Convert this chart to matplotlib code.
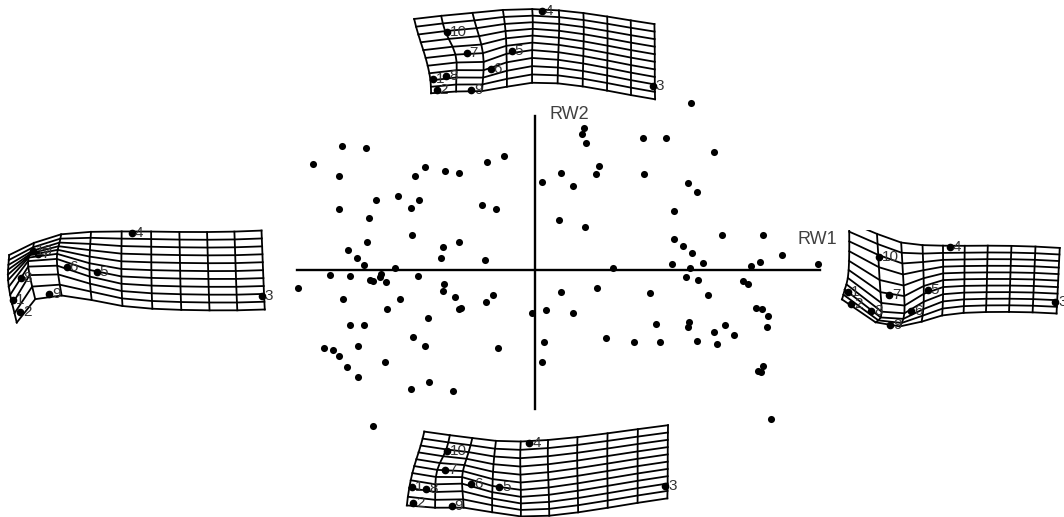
import numpy as np
import matplotlib.pyplot as plt

plt.rcParams['font.family'] = ['Liberation Sans', 'DejaVu Sans']

# relative warp scores (RW1, RW2)
rw1 = [0.467, 0.148, 0.142, 0.152, 0.325, 0.392, 0.537, -0.578, -0.507, -0.667,
       -0.587, -0.330, -0.361, -0.270, -0.227, -0.143, -0.093, 0.193, 0.182, 0.022,
       0.078, 0.113, 0.328, 0.460, 0.486, -0.588, -0.478, -0.412, -0.372, -0.348,
       -0.158, -0.117, -0.499, 0.418, 0.072, 0.150, -0.370, -0.503, -0.227, -0.275,
       -0.282, -0.151, -0.561, -0.534, -0.512, -0.421, 0.416, 0.443, 0.472, 0.562,
       0.685, 0.741, 0.412, 0.505, 0.648, 0.675, 0.235, 0.465, -0.614, -0.556,
       -0.462, -0.465, -0.494, -0.486, -0.448, -0.350, -0.711, -0.272, -0.276, -0.241,
       -0.575, -0.406, -0.443, -0.228, -0.222, -0.148, -0.125, -0.322, -0.556, -0.512,
       -0.366, -0.329, -0.532, -0.633, -0.605, -0.589, -0.565, -0.532, -0.451, -0.371,
       -0.318, -0.246, -0.112, -0.008, 0.034, 0.078, 0.113, 0.185, 0.026, 0.020,
       0.214, 0.296, 0.375, 0.346, 0.363, 0.452, 0.490, 0.519, 0.463, 0.460,
       0.487, 0.536, 0.545, 0.569, 0.598, 0.623, 0.640, 0.663, 0.680, 0.699,
       0.696, 0.683, 0.669, 0.679, 0.709, -0.485, 0.850]
rw2 = [0.501, 0.426, 0.408, 0.383, 0.396, 0.396, 0.354, 0.373, 0.368, 0.319,
       0.283, 0.311, 0.284, 0.297, 0.292, 0.325, 0.343, 0.313, 0.288, 0.266,
       0.292, 0.254, 0.290, 0.262, 0.234, 0.185, 0.211, 0.224, 0.187, 0.210,
       0.196, 0.183, 0.156, 0.178, 0.151, 0.129, 0.107, 0.086, 0.085, 0.071,
       0.038, 0.030, 0.061, 0.038, 0.016, 0.007, 0.093, 0.072, 0.051, 0.106,
       0.106, 0.046, 0.020, 0.021, 0.012, 0.024, 0.006, 0.006, -0.013, -0.018,
       -0.010, -0.019, -0.030, -0.032, -0.035, -0.016, -0.053, -0.041, -0.062, -0.080,
       -0.085, -0.087, -0.116, -0.115, -0.113, -0.096, -0.075, -0.143, -0.163, -0.163,
       -0.200, -0.226, -0.228, -0.234, -0.240, -0.257, -0.290, -0.320, -0.274, -0.357,
       -0.336, -0.362, -0.234, -0.128, -0.120, -0.064, -0.127, -0.053, -0.216, -0.275,
       -0.202, -0.216, -0.216, -0.067, -0.161, -0.020, -0.029, -0.073, -0.154, -0.170,
       -0.211, -0.184, -0.222, -0.163, -0.193, -0.032, -0.041, -0.114, -0.117, -0.136,
       -0.171, -0.287, -0.302, -0.304, -0.446, -0.466, 0.019]

# landmark configurations (1..10) at the extremes of each warp axis
lm_top = [(22.7, 79.3), (26.7, 90.0), (242.7, 86.0), (131.7, 10.7), (101.7, 50.7),
          (80.7, 69.0), (56.7, 53.3), (36.0, 76.0), (61.0, 90.0), (36.7, 32.3)]
lm_left = [(13.3, 80.0), (20.0, 92.3), (261.7, 76.0), (131.7, 12.7), (96.7, 51.7),
           (66.7, 47.0), (38.0, 34.0), (20.5, 57.5), (49.3, 74.0), (33.0, 31.0)]
lm_right = [(13.3, 61.7), (16.0, 74.0), (220.0, 71.7), (115.0, 17.3), (92.7, 60.0),
            (76.0, 81.0), (54.0, 65.0), (36.0, 80.7), (55.0, 95.0), (44.3, 27.3)]
lm_bottom = [(11.7, 67.3), (13.3, 83.3), (265.0, 65.7), (129.3, 22.7), (99.0, 67.3),
             (71.0, 64.0), (45.0, 50.0), (26.0, 69.0), (51.7, 86.0), (46.7, 30.7)]

W, H = 1064, 517
fig = plt.figure(figsize=(W / 100, H / 100), dpi=100)
ax = fig.add_axes([0, 0, 1, 1])
ax.set_xlim(-1.605, 1.587)
ax.set_ylim(-0.740, 0.811)
ax.axis('off')

ax.plot([-0.714, 0.855], [0, 0], color='black', lw=1.7, zorder=1)
ax.plot([0, 0], [-0.417, 0.463], color='black', lw=1.7, zorder=1)
ax.scatter(rw1, rw2, s=26, color='black', linewidths=0, zorder=3)
ax.text(0.045, 0.441, 'RW2', fontsize=13, color='#404040', ha='left', va='bottom')
ax.text(0.789, 0.067, 'RW1', fontsize=13, color='#404040', ha='left', va='bottom')


def tps(src, dst):
    n = len(src)
    d2 = ((src[:, None, :] - src[None, :, :]) ** 2).sum(-1)
    K = np.where(d2 > 0, d2 * np.log(d2 + 1e-300), 0.0)
    P = np.hstack([np.ones((n, 1)), src])
    L = np.zeros((n + 3, n + 3))
    L[:n, :n] = K
    L[:n, n:] = P
    L[n:, :n] = P.T
    rhs = np.vstack([dst, np.zeros((3, 2))])
    coef = np.linalg.solve(L, rhs)

    def f(pts):
        r2 = ((pts[:, None, :] - src[None, :, :]) ** 2).sum(-1)
        U = np.where(r2 > 0, r2 * np.log(r2 + 1e-300), 0.0)
        Pp = np.hstack([np.ones((len(pts), 1)), pts])
        return U @ coef[:n] + Pp @ coef[n:]
    return f


shapes = [np.array(s) for s in (lm_top, lm_left, lm_right, lm_bottom)]
consensus = np.mean([s - s.mean(0) for s in shapes], axis=0)

panels = [(lm_top, (410, 0, 260, 105)),
          (lm_left, (0, 220, 280, 105)),
          (lm_right, (835, 230, 229, 105)),
          (lm_bottom, (400, 420, 280, 97))]

ncol, nrow = 10, 11
for lm, (px, py, pw, ph) in panels:
    tgt = np.array(lm)
    src = consensus + tgt.mean(0)
    f = tps(src, tgt)
    x0, y0 = src.min(0)
    x1, y1 = src.max(0)
    mx, my = (x1 - x0) * 0.01, (y1 - y0) * 0.02
    gx, gy = np.meshgrid(np.linspace(x0 - mx, x1 + mx, ncol),
                         np.linspace(y0 - my, y1 + my, nrow))
    warped = f(np.column_stack([gx.ravel(), gy.ravel()])).reshape(nrow, ncol, 2)
    g = fig.add_axes([px / W, 1 - (py + ph) / H, pw / W, ph / H])
    g.set_xlim(0, pw)
    g.set_ylim(ph, 0)
    g.axis('off')
    for i in range(nrow):
        g.plot(warped[i, :, 0], warped[i, :, 1], color='black', lw=1.3)
    for j in range(ncol):
        g.plot(warped[:, j, 0], warped[:, j, 1], color='black', lw=1.3)
    g.plot(tgt[:, 0], tgt[:, 1], 'o', color='black', ms=4.5)
    for k, (x, y) in enumerate(tgt):
        g.text(x + 3, y, str(k + 1), fontsize=11, color='#333333',
               ha='left', va='center')

fig.savefig('out.png', dpi=100)
